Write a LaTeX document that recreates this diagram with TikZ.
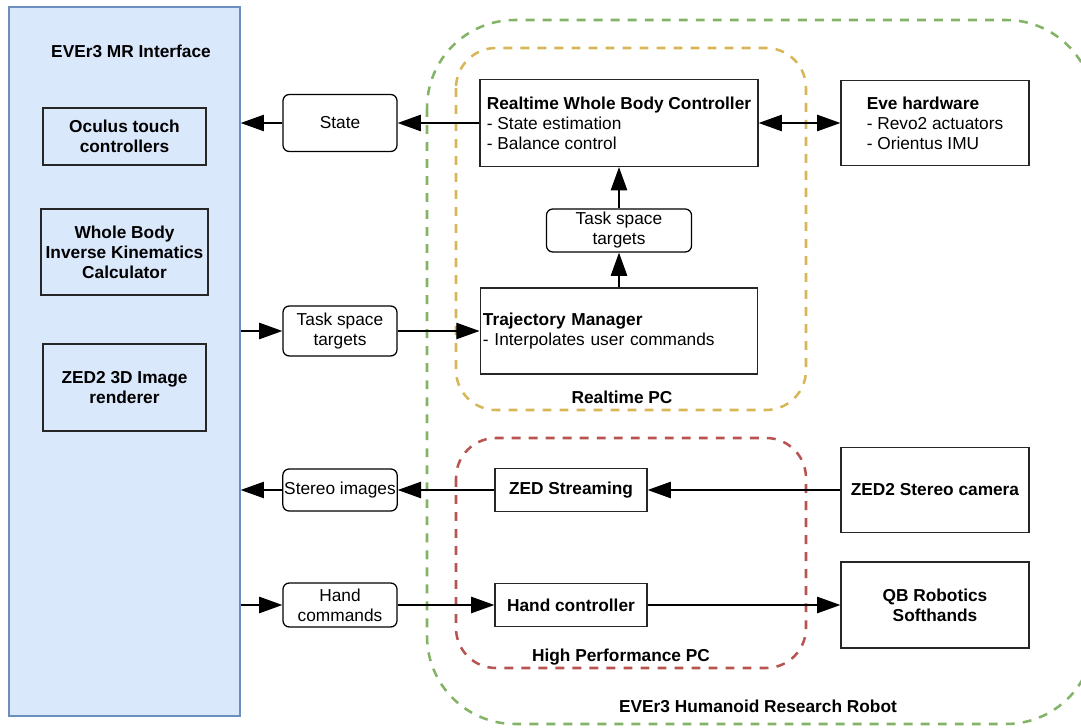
\documentclass[tikz,border=0pt]{standalone}
\usepackage{fontspec}
\setmainfont{Liberation Sans}
\usetikzlibrary{positioning, arrows.meta, calc}

\definecolor{panelfill}{HTML}{DAE8FC}
\definecolor{panelline}{HTML}{6C8EBF}
\definecolor{robotgreen}{HTML}{82B366}
\definecolor{rtorange}{HTML}{D6B656}
\definecolor{hpred}{HTML}{B85450}

\begin{document}
\begin{tikzpicture}[
    x=0.025cm, y=-0.025cm,
    font=\fontsize{12.3}{14.2}\selectfont,
    ttl/.style={font=\fontsize{12.3}{14.2}\selectfont\bfseries},
    panel/.style={rectangle, draw=panelline, fill=panelfill, line width=1pt, inner sep=0pt},
    sub/.style={rectangle, draw=black!85, fill=panelfill, line width=0.9pt, minimum width=4.075cm, align=center, font=\fontsize{12.3}{14.2}\selectfont\bfseries},
    box/.style={rectangle, draw=black!85, fill=white, line width=0.9pt, inner sep=2pt},
    msg/.style={rectangle, rounded corners=4.5pt, draw=black, fill=white, line width=0.9pt, minimum width=2.85cm, align=center, inner sep=1pt},
    grp/.style={rounded corners=#1, line width=1.8pt, dash pattern=on 6.3pt off 5.8pt},
    conn/.style={draw=black, line width=0.8pt, >={Triangle[length=5.8mm, width=4.1mm]}}
]
\useasboundingbox (0,0) rectangle (1081,728);
\clip (0,0) rectangle (1081,728);
% groups
\draw[grp=2.2cm, draw=robotgreen] (427,20) rectangle (1094,724);
\draw[grp=1cm, draw=rtorange] (456,48) rectangle (806,410);
\draw[grp=1cm, draw=hpred] (456,438) rectangle (806,668);
\node[ttl] (robotlbl) at (758,706) {EVEr3 Humanoid Research Robot};
\node[ttl] (rtlbl) at (622,397) {Realtime PC};
\node[ttl] (hplbl) at (621,657) {High Performance PC};
% MR interface
\node[panel, minimum width=5.775cm, minimum height=17.725cm] (mr) at (124.5,361.5) {};
\node[ttl] (mrlbl) at (131,51) {EVEr3 MR Interface};
\node[sub, minimum height=1.425cm] (oculus) at (124.5,136.5) {Oculus touch\\controllers};
\node[sub, minimum height=2.15cm] (wbik) at (124.5,252) {Whole Body\\Inverse Kinematics\\Calculator};
\node[sub, minimum height=2.175cm] (zedr) at (124.5,387.5) {ZED2 3D Image\\renderer};
% realtime PC
\node[box, minimum width=6.95cm, minimum height=2.175cm, align=left] (rwbc) at (619,123)
    {\textbf{Realtime Whole Body Controller}\\- State estimation\\- Balance control};
\node[msg, minimum width=3.625cm, minimum height=1.075cm] (tst2) at (619,230.5) {Task space\\targets};
\node[box, minimum height=2.15cm, text width=6.8cm, align=left] (tm) at (619,331)
    {\textbf{Trajectory Manager}\\- Interpolates user commands};
% hardware
\node[box, minimum width=4.7cm, minimum height=2.125cm, align=left] (eve) at (935,123)
    {\textbf{Eve hardware}\\- Revo2 actuators\\- Orientus IMU};
\node[box, minimum width=4.7cm, minimum height=2.125cm, font=\fontsize{12.3}{14.2}\selectfont\bfseries] (zcam) at (935,490) {ZED2 Stereo camera};
\node[box, minimum width=4.7cm, minimum height=2.15cm, align=center, font=\fontsize{12.3}{14.2}\selectfont\bfseries] (qb) at (935,605) {QB Robotics\\Softhands};
% high performance PC
\node[box, minimum width=3.8cm, minimum height=1.075cm, font=\fontsize{12.3}{14.2}\selectfont\bfseries] (zstream) at (571,490) {ZED Streaming};
\node[box, minimum width=3.8cm, minimum height=1.075cm, font=\fontsize{12.3}{14.2}\selectfont\bfseries] (handctl) at (571,605) {Hand controller};
% messages
\node[msg, minimum height=1.425cm] (state) at (340,123) {State};
\node[msg, minimum height=1.25cm] (tst1) at (340,331) {Task space\\targets};
\node[msg, minimum height=1.05cm] (stereo) at (340,490) {Stereo images};
\node[msg, minimum height=1.1cm] (handc) at (340,605) {Hand\\commands};
% connections
\draw[conn,->] (rwbc) -- (state);
\draw[conn,->] (state) -- (state -| mr.east);
\draw[conn,<->] (rwbc) -- (eve);
\draw[conn,->] (tm) -- (tst2);
\draw[conn,->] (tst2) -- (rwbc);
\draw[conn,->] (mr.east |- tst1) -- (tst1);
\draw[conn,->] (tst1) -- (tm);
\draw[conn,->] (zcam) -- (zstream);
\draw[conn,->] (zstream) -- (stereo);
\draw[conn,->] (stereo) -- (stereo -| mr.east);
\draw[conn,->] (mr.east |- handc) -- (handc);
\draw[conn,->] (handc) -- (handctl);
\draw[conn,->] (handctl) -- (qb);
\end{tikzpicture}
\end{document}
